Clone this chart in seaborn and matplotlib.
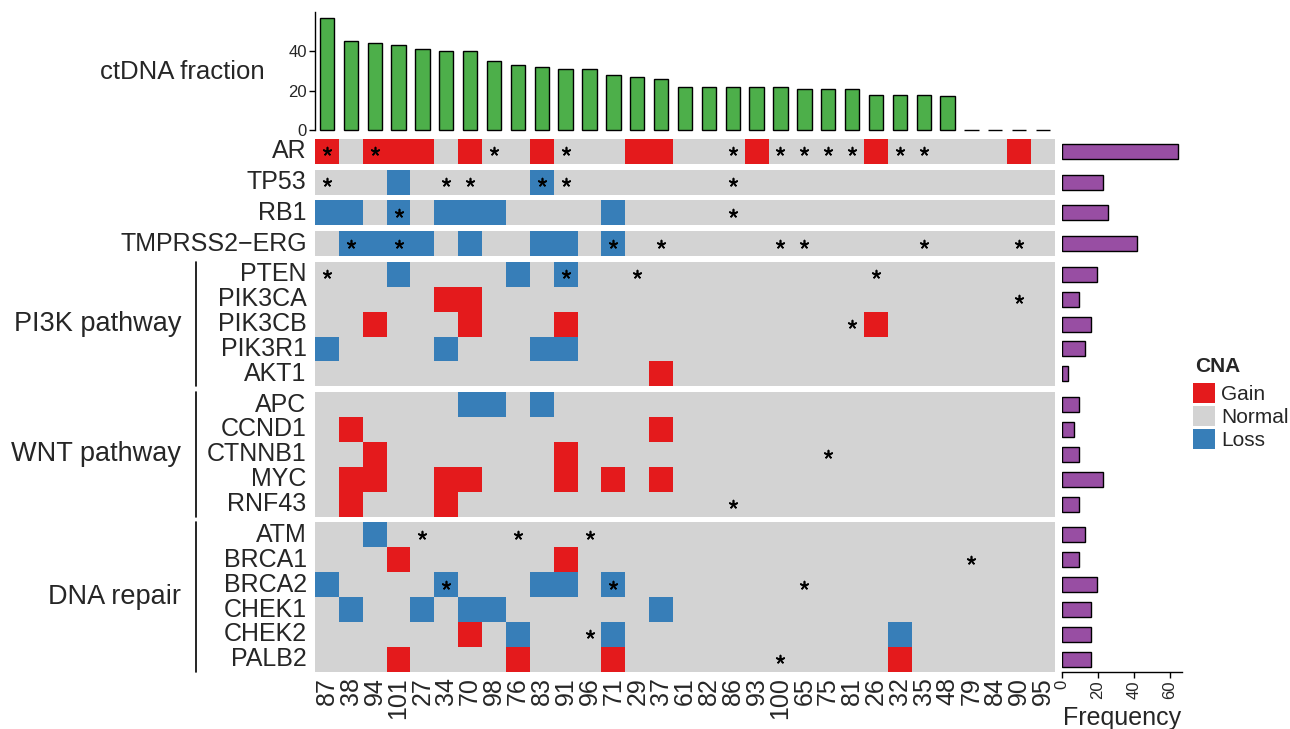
import numpy as np
import pandas as pd
import matplotlib
matplotlib.use("Agg")
import matplotlib.pyplot as plt
import seaborn as sns
from matplotlib.colors import ListedColormap
from matplotlib.patches import Patch

sns.set_style("white")
plt.rcParams["font.family"] = ["Liberation Sans", "DejaVu Sans"]

# ---------------- data ----------------
samples = ["87", "38", "94", "101", "27", "34", "70", "98", "76", "83", "91", "96", "71", "29", "37",
           "61", "82", "86", "93", "100", "65", "75", "81", "26", "32", "35", "48", "79", "84", "90", "95"]
ctdna = [57, 45, 44, 43, 41, 40, 40, 35, 33, 32, 31, 31, 28, 27, 26,
         22, 22, 22, 22, 22, 21, 21, 21, 18, 18, 18, 17, 0, 0, 0, 0]

group_names = ["", "", "", "", "PI3K pathway", "WNT pathway", "DNA repair"]
group_genes = [["AR"], ["TP53"], ["RB1"], ["TMPRSS2−ERG"],
               ["PTEN", "PIK3CA", "PIK3CB", "PIK3R1", "AKT1"],
               ["APC", "CCND1", "CTNNB1", "MYC", "RNF43"],
               ["ATM", "BRCA1", "BRCA2", "CHEK1", "CHEK2", "PALB2"]]

cna_gain = {
    "AR": ["87", "94", "101", "27", "70", "83", "29", "37", "93", "26", "90"],
    "PIK3CA": ["34", "70"],
    "PIK3CB": ["94", "70", "91", "26"],
    "AKT1": ["37"],
    "CCND1": ["38", "37"],
    "CTNNB1": ["94", "91"],
    "MYC": ["38", "94", "34", "70", "91", "71", "37"],
    "RNF43": ["38", "34"],
    "BRCA1": ["101", "91"],
    "CHEK2": ["70"],
    "PALB2": ["101", "76", "71", "32"],
}
cna_loss = {
    "TP53": ["101", "83"],
    "RB1": ["87", "38", "101", "34", "70", "98", "71"],
    "TMPRSS2−ERG": ["38", "94", "101", "27", "70", "83", "91", "71"],
    "PTEN": ["101", "76", "91"],
    "PIK3R1": ["87", "34", "83", "91"],
    "APC": ["70", "98", "83"],
    "ATM": ["94"],
    "BRCA2": ["87", "34", "83", "91", "71"],
    "CHEK1": ["38", "27", "70", "98", "37"],
    "CHEK2": ["76", "71", "32"],
}
mutations = {
    "AR": ["87", "94", "98", "91", "86", "100", "65", "75", "81", "32", "35"],
    "TP53": ["87", "34", "70", "83", "91", "86"],
    "RB1": ["101", "86"],
    "TMPRSS2−ERG": ["38", "101", "71", "37", "100", "65", "35", "90"],
    "PTEN": ["87", "91", "29", "26"],
    "PIK3CA": ["90"],
    "PIK3CB": ["81"],
    "CTNNB1": ["75"],
    "RNF43": ["86"],
    "ATM": ["27", "76", "96"],
    "BRCA1": ["79"],
    "BRCA2": ["34", "71", "65"],
    "CHEK2": ["96"],
    "PALB2": ["100"],
}
freq_genes = ["AR", "TP53", "RB1", "TMPRSS2−ERG", "PTEN", "PIK3CA", "PIK3CB", "PIK3R1", "AKT1",
              "APC", "CCND1", "CTNNB1", "MYC", "RNF43", "ATM", "BRCA1", "BRCA2", "CHEK1", "CHEK2", "PALB2"]
freq_pct = [64.5, 22.6, 25.8, 41.9, 19.4, 9.7, 16.1, 12.9, 3.2,
            9.7, 6.5, 9.7, 22.6, 9.7, 12.9, 9.7, 19.4, 16.1, 16.1, 16.1]

# ---------------- style ----------------
RED, GRAY, BLUE = "#E41A1C", "#D3D3D3", "#377EB8"
GREEN, PURPLE = "#4DAF4A", "#984EA3"
cmap = ListedColormap([BLUE, GRAY, RED])
W, H = 1290, 729
LAB = 18
TICK = 12

fig = plt.figure(figsize=(W / 100, H / 100), dpi=100)


def add_ax(x0, x1, y0, y1):
    return fig.add_axes([x0 / W, 1 - y1 / H, (x1 - x0) / W, (y1 - y0) / H])


HX0, HX1 = 315, 1055
FX0, FX1 = 1062, 1182

# ---------------- ctDNA bars ----------------
axc = add_ax(HX0, HX1, 12, 130)
dfc = pd.DataFrame({"sample": samples, "ctdna": ctdna})
sns.barplot(data=dfc, x="sample", y="ctdna", order=samples, color=GREEN, saturation=1,
            edgecolor="black", linewidth=1.0, width=0.6, ax=axc)
for p in axc.patches:
    p.set_clip_on(False)
axc.set_xlim(-0.5, len(samples) - 0.5)
axc.set_ylim(0, 59.85)
for s in ["top", "right", "bottom"]:
    axc.spines[s].set_visible(False)
axc.spines["left"].set_linewidth(1.0)
axc.spines["left"].set_color("black")
axc.set_xticks([])
axc.set_yticks([0, 20, 40])
axc.tick_params(axis="y", labelsize=TICK, length=4, width=1.0, color="black", pad=2, left=True)
axc.set_xlabel("")
axc.set_ylabel("")
axc.text(-0.068, 0.49, "ctDNA fraction", transform=axc.transAxes, ha="right", va="center",
         fontsize=18.5)

# ---------------- heatmap + frequency blocks ----------------
freq_map = dict(zip(freq_genes, freq_pct))
rh, gap = 24.9, 5.8
cur = 139.0
nblocks = len(group_genes)
for bi, (gname, genes) in enumerate(zip(group_names, group_genes)):
    n = len(genes)
    y0, y1 = cur, cur + n * rh
    cur = y1 + gap
    last = bi == nblocks - 1

    mat = pd.DataFrame(0, index=genes, columns=samples, dtype=float)
    for g in genes:
        for s in cna_gain.get(g, []):
            mat.loc[g, s] = 1
        for s in cna_loss.get(g, []):
            mat.loc[g, s] = -1

    ax = add_ax(HX0, HX1, y0, y1)
    sns.heatmap(mat, cmap=cmap, vmin=-1.5, vmax=1.5, cbar=False, ax=ax,
                xticklabels=samples if last else False, yticklabels=genes)
    ax.tick_params(axis="y", length=0, pad=6, labelsize=LAB)
    plt.setp(ax.get_yticklabels(), rotation=0)
    if last:
        ax.tick_params(axis="x", length=0, pad=4, labelsize=LAB)
        plt.setp(ax.get_xticklabels(), rotation=90, va="top", ha="center")
    ax.set_xlabel("")
    ax.set_ylabel("")

    for r, g in enumerate(genes):
        for s in mutations.get(g, []):
            ax.scatter(samples.index(s) + 0.5, r + 0.5, marker=(5, 2, 0), s=32,
                       color="black", linewidths=1.2, zorder=5)

    if gname:
        xl = (196 - HX0) / (HX1 - HX0)
        ax.plot([xl, xl], [0, 1], transform=ax.transAxes, color="black", lw=1.2,
                clip_on=False)
        ax.text((181 - HX0) / (HX1 - HX0), 0.5, gname, transform=ax.transAxes,
                ha="right", va="center", fontsize=19.5)

    axf = add_ax(FX0, FX1, y0, y1)
    dff = pd.DataFrame({"gene": genes, "freq": [freq_map[g] for g in genes]})
    sns.barplot(data=dff, x="freq", y="gene", orient="h", color=PURPLE, saturation=1,
                edgecolor="black", linewidth=1.0, width=0.6, ax=axf)
    axf.set_xlim(0, 66.6)
    axf.set_ylim(n - 0.5, -0.5)
    for s in ["top", "right", "left"]:
        axf.spines[s].set_visible(False)
    axf.set_yticks([])
    axf.set_ylabel("")
    if last:
        axf.spines["bottom"].set_linewidth(1.0)
        axf.spines["bottom"].set_color("black")
        axf.set_xticks([0, 20, 40, 60])
        axf.tick_params(axis="x", labelsize=TICK, length=4, width=1.0, color="black",
                        pad=2, bottom=True, labelrotation=90)
        axf.set_xlabel("Frequency", fontsize=LAB, labelpad=5)
    else:
        axf.spines["bottom"].set_visible(False)
        axf.set_xticks([])
        axf.set_xlabel("")

# ---------------- legend ----------------
fig.text(1195 / W, 1 - 366 / H, "CNA", fontsize=15, fontweight="bold",
         ha="left", va="center")
handles = [Patch(facecolor=RED, edgecolor="none", label="Gain"),
           Patch(facecolor=GRAY, edgecolor="none", label="Normal"),
           Patch(facecolor=BLUE, edgecolor="none", label="Loss")]
fig.legend(handles=handles, loc="upper left",
           bbox_to_anchor=(1193 / W, 1 - 383 / H), frameon=False, fontsize=15,
           handlelength=1.05, handleheight=1.08, handletextpad=0.3,
           labelspacing=0.1, borderpad=0, borderaxespad=0)

fig.savefig("out.png", dpi=100)
